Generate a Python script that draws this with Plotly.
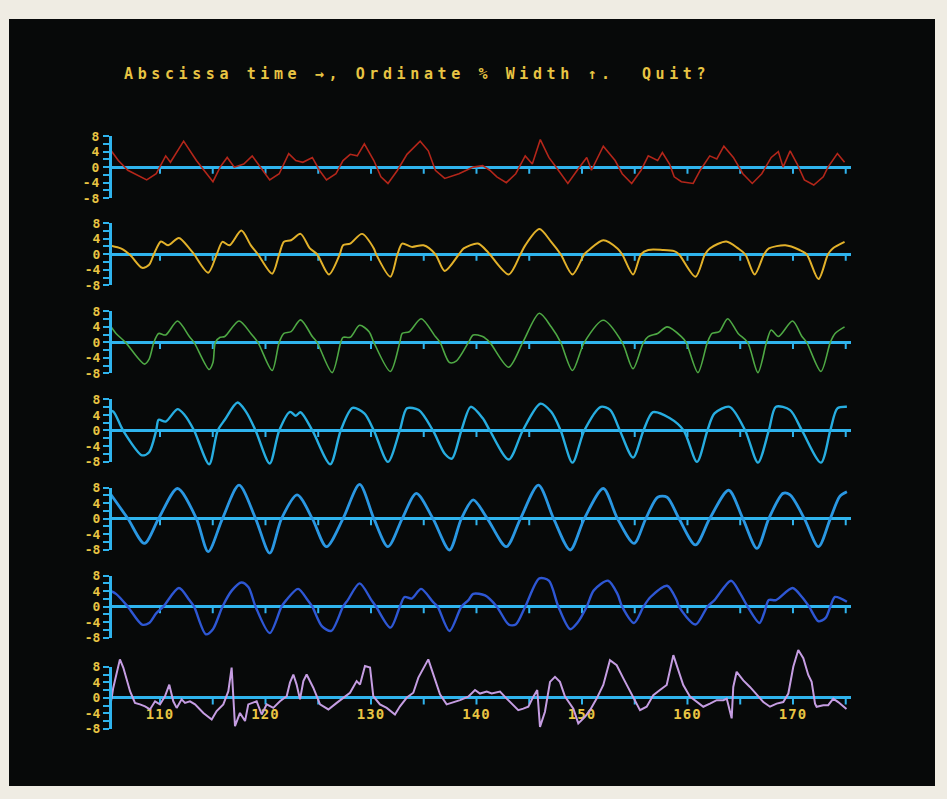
import plotly.graph_objects as go

# ---------------- data (time, % width) ----------------
T_RED = [105.16, 106.05, 106.95, 108.74, 109.64, 110.54, 110.99, 112.24, 113.45, 114.13, 115.02, 115.70, 116.37,
         117.04, 117.94, 118.74, 119.51, 120.40, 121.30, 122.20, 122.87, 123.54, 124.44, 125.11, 125.78, 126.68,
         127.35, 128.03, 128.70, 129.37, 130.27, 130.94, 131.61, 132.51, 133.41, 134.66, 135.43, 136.10, 136.99,
         138.34, 139.69, 140.58, 141.26, 141.93, 142.83, 143.72, 144.62, 145.29, 146.05, 146.86, 147.76, 148.66,
         149.55, 150.45, 150.90, 152.02, 153.14, 153.81, 154.71, 155.60, 156.28, 157.17, 157.62, 158.30, 158.74,
         159.42, 160.54, 161.21, 162.11, 162.78, 163.45, 164.35, 165.25, 166.14, 167.04, 167.94, 168.61, 169.06,
         169.73, 170.40, 171.08, 171.97, 172.87, 173.32, 174.21, 174.89]
V_RED = [5.0, 1.7, -0.8, -3.3, -1.7, 2.9, 1.25, 6.7, 1.7, -0.8, -3.75, 0.0, 2.5,
         0.0, 0.8, 2.9, 0.0, -3.3, -1.7, 3.5, 1.7, 1.25, 2.5, -0.8, -3.3, -1.7,
         1.7, 3.3, 2.9, 6.0, 1.7, -2.5, -4.2, -0.8, 3.3, 6.7, 4.2, -0.8, -2.9,
         -1.7, 0.0, 0.4, -0.8, -2.5, -4.0, -1.7, 2.9, 0.8, 7.1, 2.5, -0.8, -4.2,
         -0.8, 2.5, -0.8, 5.4, 1.7, -1.7, -4.2, -0.8, 2.9, 1.7, 3.75, 0.8, -2.5,
         -3.75, -4.2, -0.8, 2.9, 2.1, 5.4, 2.5, -1.7, -4.2, -1.7, 2.5, 4.0, 0.0,
         4.2, 0.8, -3.3, -4.6, -2.5, 0.0, 3.5, 1.25]

T_YEL = [105.16, 106.28, 107.17, 108.30, 108.97, 109.42, 110.09, 110.76, 111.79, 112.78, 113.23, 114.57, 115.38,
         115.92, 116.59, 117.71, 118.61, 119.28, 120.63, 121.30, 121.75, 122.42, 123.32, 124.21, 124.89, 126.01,
         127.04, 127.35, 128.03, 129.15, 130.27, 130.49, 131.84, 132.51, 132.96, 133.86, 134.98, 136.10, 136.99,
         138.34, 138.79, 140.13, 141.03, 141.26, 143.05, 144.17, 144.62, 145.96, 147.08, 147.98, 149.10, 150.22,
         150.67, 152.02, 153.36, 153.81, 154.84, 155.60, 156.28, 157.62, 158.74, 159.19, 160.76, 161.66, 162.11,
         163.68, 164.80, 165.47, 166.37, 167.26, 167.71, 169.28, 170.63, 171.30, 172.42, 173.32, 173.77, 174.89]
V_YEL = [2.3, 1.5, -0.2, -3.5, -2.7, 0.0, 3.3, 2.3, 4.2, 1.5, 0.0, -4.75, 0.0,
         3.2, 2.3, 6.1, 2.3, 0.0, -5.0, 0.0, 3.2, 3.6, 5.25, 1.5, 0.0, -5.2,
         0.0, 2.3, 2.75, 5.25, 1.5, 0.0, -5.8, 0.0, 2.75, 1.9, 2.3, 0.0, -4.3,
         0.0, 1.5, 2.75, 0.7, 0.0, -5.2, 0.0, 2.3, 6.5, 3.2, 0.0, -5.2, 0.0,
         1.1, 3.6, 1.5, 0.0, -5.2, 0.0, 1.1, 1.1, 0.8, 0.0, -5.8, 0.0, 1.5,
         3.3, 1.5, 0.0, -5.2, 0.0, 1.5, 2.3, 1.1, 0.0, -6.4, 0.0, 1.5, 3.2]

T_GRN = [105.16, 105.83, 106.73, 108.52, 108.97, 109.42, 109.87, 110.54, 111.66, 112.78, 113.23, 114.66, 115.02,
         115.25, 115.70, 116.14, 117.49, 118.61, 119.28, 120.63, 121.30, 121.75, 122.42, 123.32, 124.44, 124.89,
         126.32, 127.13, 127.35, 128.03, 128.92, 129.82, 130.27, 131.84, 132.73, 132.96, 133.63, 134.75, 136.10,
         136.55, 137.44, 138.11, 139.24, 139.69, 140.58, 141.26, 143.05, 144.39, 145.96, 147.08, 147.98, 149.10,
         150.22, 152.02, 153.81, 154.84, 155.83, 156.28, 157.17, 158.07, 159.42, 159.87, 160.99, 161.89, 162.33,
         163.01, 163.81, 164.80, 165.70, 166.68, 167.49, 167.94, 168.61, 169.96, 170.85, 171.30, 172.65, 173.54,
         173.99, 174.89]
V_GRN = [4.8, 2.3, 0.0, -5.6, -4.3, 0.0, 2.3, 1.9, 5.5, 1.5, 0.0, -7.0, -5.2,
         0.0, 1.3, 1.5, 5.5, 2.3, 0.0, -7.25, 0.0, 2.3, 2.75, 5.8, 1.5, 0.0,
         -7.8, 0.0, 1.3, 1.3, 4.4, 2.75, 0.0, -7.5, 0.0, 2.3, 2.75, 6.1, 1.5,
         0.0, -5.2, -4.75, 0.0, 1.9, 1.5, 0.0, -6.4, 0.0, 7.5, 4.0, 0.0, -7.25,
         0.0, 5.7, 0.0, -6.8, 0.0, 1.5, 2.3, 4.0, 1.5, 0.0, -7.8, 0.0, 2.3,
         2.75, 6.1, 2.3, 0.0, -7.8, 0.0, 3.2, 1.5, 5.5, 1.5, 0.0, -7.5, 0.0,
         2.3, 4.0]

T_CYA = [105.16, 105.60, 106.50, 108.30, 108.97, 109.64, 109.87, 110.54, 111.66, 112.33, 113.23, 114.66, 115.47,
         116.14, 117.35, 118.16, 119.06, 120.40, 121.30, 122.33, 122.87, 123.32, 124.44, 126.14, 127.13, 128.25,
         129.37, 130.27, 131.61, 132.73, 133.41, 134.53, 135.87, 136.99, 137.67, 138.57, 139.46, 140.58, 141.26,
         143.05, 144.39, 146.05, 147.08, 147.98, 149.10, 150.22, 151.79, 152.69, 153.59, 154.84, 155.83, 156.73,
         158.30, 159.64, 160.90, 161.89, 162.56, 163.99, 165.47, 166.68, 167.71, 168.39, 169.73, 170.85, 172.65,
         173.54, 174.21, 175.11]
V_CYA = [5.25, 4.8, 0.0, -6.4, -5.6, 0.0, 2.75, 2.3, 5.5, 4.0, 0.0, -8.7, 0.0,
         2.75, 7.2, 4.8, 0.0, -8.5, 0.0, 4.8, 3.8, 4.7, 0.0, -8.7, 0.0, 5.8,
         4.4, 0.0, -8.1, 0.0, 5.7, 5.25, 0.0, -6.0, -7.25, 0.0, 6.1, 3.2, 0.0,
         -7.5, 0.0, 6.9, 4.8, 0.0, -8.3, 0.0, 6.1, 5.25, 0.0, -7.0, 0.0, 4.7,
         3.2, 0.0, -8.1, 0.0, 4.4, 6.1, 0.0, -8.3, 0.0, 6.1, 5.25, 0.0, -8.3,
         0.0, 5.7, 6.1]

T_BLU = [105.16, 106.95, 108.52, 109.87, 111.66, 113.45, 114.57, 115.92, 117.49, 119.06, 120.40, 121.52, 123.00,
         124.44, 125.78, 127.35, 128.92, 130.27, 131.61, 132.96, 134.30, 135.87, 137.44, 138.57, 139.69, 141.03,
         142.83, 144.17, 145.87, 147.31, 148.88, 150.22, 152.02, 153.36, 154.93, 156.05, 157.17, 158.07, 159.19,
         160.76, 162.11, 163.90, 165.25, 166.59, 167.71, 169.06, 169.73, 171.08, 172.42, 173.54, 174.44, 175.11]
V_BLU = [6.9, 0.0, -6.4, 0.0, 7.75, 0.0, -8.5, 0.0, 8.6, 0.0, -8.9, 0.0, 6.1,
         0.0, -7.25, 0.0, 8.8, 0.0, -7.25, 0.0, 6.5, 0.0, -8.1, 0.0, 4.8, 0.0,
         -7.25, 0.0, 8.6, 0.0, -8.1, 0.0, 7.75, 0.0, -6.4, 0.0, 5.5, 5.5, 0.0,
         -6.8, 0.0, 7.3, 0.0, -7.7, 0.0, 6.5, 6.1, 0.0, -7.25, 0.0, 5.7, 6.9]

T_NAV = [105.16, 105.83, 106.95, 108.30, 108.97, 109.64, 110.31, 111.79, 112.78, 113.23, 114.35, 115.02, 115.92,
         116.82, 117.71, 118.39, 119.06, 120.40, 121.52, 121.97, 123.09, 123.99, 124.44, 125.34, 126.23, 127.35,
         127.80, 128.92, 130.04, 130.49, 131.84, 132.73, 133.18, 133.86, 134.75, 135.87, 136.32, 137.44, 138.57,
         139.24, 139.69, 140.81, 141.93, 143.05, 143.72, 144.62, 145.96, 146.86, 147.76, 148.88, 149.55, 150.45,
         151.12, 152.47, 153.36, 153.81, 154.93, 155.83, 156.50, 158.07, 158.97, 159.19, 160.76, 161.89, 162.56,
         164.13, 165.02, 165.70, 166.82, 167.26, 167.71, 168.39, 169.96, 170.85, 171.53, 172.42, 173.09, 173.54,
         173.99, 175.11]
V_NAV = [4.2, 3.3, 0.0, -4.6, -4.2, -1.7, 0.0, 4.8, 1.7, 0.0, -7.1, -5.8, 0.0,
         4.2, 6.25, 5.0, 0.0, -6.8, 0.0, 1.7, 4.6, 1.7, 0.0, -5.0, -6.25, 0.0,
         1.7, 6.0, 1.7, 0.0, -5.4, 0.0, 2.5, 2.1, 4.6, 1.25, 0.0, -6.25, 0.0,
         1.7, 3.3, 2.9, 0.0, -4.6, -4.6, 0.0, 7.3, 6.7, 0.0, -5.8, -4.2, 0.0,
         4.2, 6.7, 3.3, 0.0, -4.2, 0.0, 2.5, 5.4, 1.7, 0.0, -4.6, 0.0, 1.7,
         6.7, 3.3, 0.0, -4.2, -1.7, 1.7, 1.7, 4.8, 2.5, 0.0, -3.75, -2.9, 0.0,
         2.5, 1.25]

T_LAV = [105.26, 105.57, 106.20, 106.52, 107.16, 107.63, 108.10, 108.58, 109.05, 109.53, 110.00, 110.47, 110.88,
         111.26, 111.58, 112.05, 112.37, 112.84, 113.32, 114.11, 114.90, 115.37, 116.00, 116.48, 116.79, 116.95,
         117.11, 117.58, 118.06, 118.37, 118.69, 119.16, 119.64, 120.11, 120.74, 121.37, 122.01, 122.32, 122.64,
         122.95, 123.27, 123.59, 123.90, 124.53, 125.17, 125.96, 126.75, 127.38, 128.01, 128.64, 128.96, 129.43,
         129.91, 130.22, 130.85, 131.49, 132.27, 132.75, 133.38, 134.01, 134.49, 135.43, 135.91, 136.54, 137.17,
         138.44, 139.22, 139.86, 140.33, 140.97, 141.44, 142.23, 142.86, 143.49, 143.96, 144.44, 144.91, 145.39,
         145.76, 146.02, 146.49, 146.97, 147.44, 147.91, 148.39, 149.18, 149.65, 150.28, 150.76, 151.39, 152.02,
         152.65, 153.29, 153.92, 154.55, 155.18, 155.50, 156.13, 156.76, 157.39, 158.03, 158.66, 158.97, 159.60,
         160.24, 160.87, 161.50, 162.13, 162.77, 163.40, 163.72, 164.19, 164.34, 164.66, 165.29, 165.92, 166.56,
         167.19, 167.82, 168.45, 169.08, 169.56, 170.03, 170.50, 170.98, 171.45, 171.77, 172.09, 172.24, 172.87,
         173.34, 173.82, 174.29, 174.76, 175.07]
V_LAV = [-2.6, 2.6, 9.9, 7.8, 1.7, -1.3, -1.7, -2.2, -3.0, -0.9, -1.7, 0.4, 3.4,
         -0.9, -2.6, -0.4, -1.3, -0.9, -1.7, -3.9, -5.6, -3.4, -1.7, 1.7, 7.8, 0.9,
         -7.3, -3.9, -6.0, -1.7, -1.3, -0.9, -4.3, -1.7, -2.6, -0.9, 0.4, 3.9, 6.0,
         3.4, -0.4, 4.3, 6.0, 2.6, -1.7, -3.0, -1.3, 0.0, 1.3, 4.3, 3.4, 8.2,
         7.8, 0.4, -1.7, -2.6, -4.3, -2.2, 0.0, 1.3, 5.2, 9.9, 6.0, 0.9, -1.7,
         -0.6, 0.3, 2.0, 1.1, 1.6, 1.1, 1.6, -0.2, -1.9, -3.2, -2.8, -2.3, 0.3,
         2.0, -7.5, -3.6, 4.1, 5.4, 4.1, 0.3, -2.8, -6.6, -4.9, -3.2, -0.2, 3.3,
         9.7, 8.4, 5.0, 1.6, -1.9, -3.2, -2.3, 0.7, 2.0, 3.3, 11.0, 8.4, 3.3,
         0.3, -1.1, -2.3, -1.5, -0.6, -0.6, -0.2, -5.3, 2.8, 6.7, 4.5, 2.8, 0.7,
         -1.1, -2.3, -1.5, -1.1, 1.1, 8.0, 12.3, 10.2, 5.9, 4.1, -1.5, -2.3, -1.9,
         -1.9, -0.2, -1.1, -2.3, -2.9]

Y_TICKS = [-8, -4, 0, 4, 8]
Y_TICK_TEXT = ["-8", "-4", "0", "4", "8"]
X_LABELS = [110, 120, 130, 140, 150, 160, 170]
X_MARKS = [110, 115, 120, 125, 130, 135, 140, 145, 150, 155, 160, 165, 170, 175]
TITLE = "Abscissa time \u2192, Ordinate % Width \u2191.  Quit?"

# ---------------- styling / layout ----------------
W, H = 947, 799
AXIS_BLUE = "#2fb4ee"
TEXT_YEL = "#e8c443"
FONT = "DejaVu Sans Mono"

series = [
    (T_RED, V_RED, "#b3261a", 1.6, "linear"),
    (T_YEL, V_YEL, "#e2b12a", 2.0, "spline"),
    (T_GRN, V_GRN, "#4ea844", 1.6, "spline"),
    (T_CYA, V_CYA, "#27ade0", 2.4, "spline"),
    (T_BLU, V_BLU, "#2a97e2", 2.8, "spline"),
    (T_NAV, V_NAV, "#2e57d4", 2.4, "spline"),
    (T_LAV, V_LAV, "#c59de2", 2.0, "linear"),
]
# target pixel rows (in the photographed frame)
ZERO_PX = [168, 255, 343, 431, 519, 607, 698]
V_SCALE = 0.98          # vertical compensation observed in the capture
V_CENTER = 403.0
PX_PER_UNIT = 31.0 / 8.0 / V_SCALE
DATA_HALF_PX = 64
X_DOMAIN = [112 / W, 851 / W]
X_RANGE = [105.45, 175.5]


def fy(px):
    """Paper fraction for a target pixel row in the captured picture."""
    lay = V_CENTER + (px - V_CENTER) / V_SCALE
    return 1 - lay / H


def hpx(px):
    return px / V_SCALE / H


fig = go.Figure()
layout = dict(
    width=W, height=H,
    margin=dict(l=0, r=0, t=0, b=0),
    paper_bgcolor="#efece3",
    plot_bgcolor="rgba(0,0,0,0)",
    showlegend=False,
    font=dict(family=FONT, color=TEXT_YEL, size=13, weight="bold"),
    xaxis=dict(domain=X_DOMAIN, range=X_RANGE, anchor="free", position=fy(704),
               showline=False, showgrid=False, zeroline=False, ticks="",
               tickvals=X_LABELS, ticktext=[str(v) for v in X_LABELS],
               tickfont=dict(family=FONT, color=TEXT_YEL, size=14, weight="bold")),
    shapes=[dict(type="rect", xref="paper", yref="paper", x0=9 / W, x1=935 / W,
                 y0=max(fy(786), 0), y1=min(fy(20), 1), fillcolor="#070909", line=dict(width=0),
                 layer="below")],
    annotations=[dict(text=TITLE, xref="paper", yref="paper", x=122 / W, y=fy(75),
                      xanchor="left", yanchor="middle", align="left", showarrow=False,
                      font=dict(family=FONT, size=15, color=TEXT_YEL, weight="bold"))],
)

n_panels = len(series)
for i, (tx, vy, color, width, shape) in enumerate(series):
    disp = i + 1
    data = i + 1 + n_panels
    z = ZERO_PX[i]
    dname = "yaxis" if disp == 1 else f"yaxis{disp}"
    layout[dname] = dict(
        domain=[fy(z + 31), fy(z - 31)],
        range=[-8, 8], anchor="x", showline=True, linecolor=AXIS_BLUE, linewidth=3,
        showgrid=False, zeroline=True, zerolinecolor=AXIS_BLUE, zerolinewidth=3,
        ticks="outside", ticklen=6, tickwidth=2, tickcolor=AXIS_BLUE,
        tickvals=Y_TICKS, ticktext=Y_TICK_TEXT,
        tickfont=dict(family=FONT, color=TEXT_YEL, size=13, weight="bold"),
        minor=dict(dtick=2, ticks="outside", ticklen=6, tickwidth=2, tickcolor=AXIS_BLUE),
        fixedrange=True,
    )
    half_units = DATA_HALF_PX / (31.0 / 8.0)
    layout[f"yaxis{data}"] = dict(
        domain=[fy(z + DATA_HALF_PX), fy(z - DATA_HALF_PX)],
        range=[-half_units, half_units], anchor="x", visible=False, fixedrange=True,
    )
    # small time marks on the zero line
    fig.add_trace(go.Scatter(
        x=X_MARKS, y=[-0.8] * len(X_MARKS), mode="markers", hoverinfo="skip",
        marker=dict(symbol="line-ns", size=5, line=dict(color=AXIS_BLUE, width=2)),
        xaxis="x", yaxis="y" if disp == 1 else f"y{disp}",
    ))

for i, (tx, vy, color, width, shape) in enumerate(series):
    data = i + 1 + n_panels
    line = dict(color=color, width=width, shape=shape)
    if shape == "spline":
        line["smoothing"] = 0.8
    fig.add_trace(go.Scatter(x=tx, y=vy, mode="lines", line=line,
                             xaxis="x", yaxis=f"y{data}", hoverinfo="skip"))

fig.update_layout(**layout)

post = """
var gd = document.getElementById('{plot_id}');
function spaceOut(){
  gd.querySelectorAll('.annotation-text').forEach(function(t){ t.style.letterSpacing='4.6px'; });
  gd.querySelectorAll('.xtick text, .ytick text').forEach(function(t){ t.style.letterSpacing='1px'; });
}
spaceOut();
if (gd.on) { gd.on('plotly_afterplot', spaceOut); }
"""
fig.write_html("out.html", post_script=post)
